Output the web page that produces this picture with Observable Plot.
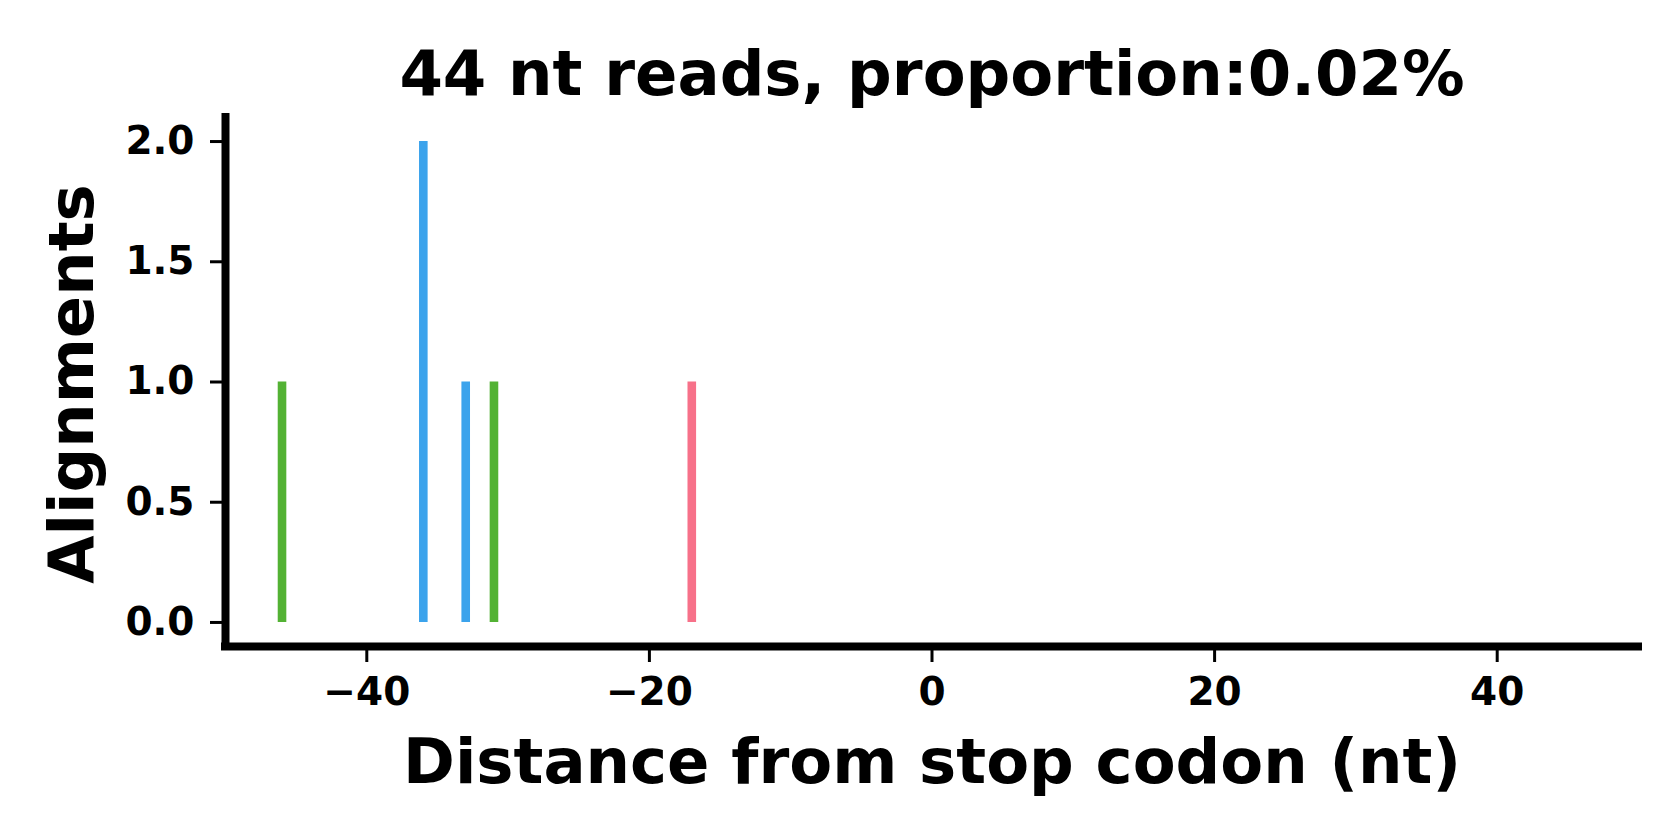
<!DOCTYPE html>
<html>
<head>
<meta charset="utf-8">
<script src="https://cdn.jsdelivr.net/npm/d3@7"></script>
<script src="https://cdn.jsdelivr.net/npm/@observablehq/plot@0.6"></script>
<style>
  html, body { margin: 0; padding: 0; background: #fff; }
  #chart svg { display: block; }
</style>
</head>
<body>
<div id="chart"></div>
<script>
// Data
const positions = [-46, -36, -33, -31, -17];   // distance from stop codon (nt)
const counts    = [1, 2, 1, 1, 1];            // alignments
const frames    = [2, 0, 0, 2, 1];            // reading frame of each position
const frameDomain = [0, 1, 2];
const frameColors = ["#3ba3ec", "#f77189", "#53b234"];
const xTicks = [-40, -20, 0, 20, 40];
const yTicks = [0, 0.5, 1, 1.5, 2];
const titleText = "44 nt reads, proportion:0.02%";
const xLabel = "Distance from stop codon (nt)";
const yLabel = "Alignments";

const data = positions.map((p, i) => ({pos: p, count: counts[i], frame: frames[i]}));

const font = "DejaVu Sans";
const chart = Plot.plot({
  width: 1680,
  height: 840,
  marginLeft: 225,
  marginRight: 42,
  marginTop: 117,
  marginBottom: 194,
  style: {fontFamily: font, fontWeight: "bold", fontSize: "39px", color: "#000", background: "#fff"},
  x: {domain: [-50, 50]},
  y: {domain: [-0.1, 2.1]},
  color: {domain: frameDomain, range: frameColors},
  marks: [
    Plot.ruleX(data, {x: "pos", y1: 0, y2: "count", stroke: "frame", strokeWidth: 8.6}),
    Plot.axisX({ticks: xTicks, tickSize: 16, tickPadding: 15, strokeWidth: 3, label: null, fontSize: 39, fontWeight: "bold"}),
    Plot.axisY({ticks: yTicks, tickFormat: d3.format(".1f"), tickSize: 15, tickPadding: 16, strokeWidth: 3, label: null, fontSize: 39, fontWeight: "bold"}),
    Plot.ruleX([-50], {stroke: "#000", strokeWidth: 8, strokeLinecap: "square"}),
    Plot.ruleY([-0.1], {stroke: "#000", strokeWidth: 8, strokeLinecap: "square"}),
    Plot.text([titleText], {frameAnchor: "top", textAnchor: "middle", lineAnchor: "bottom", dy: -23, fontSize: 62.5, fontWeight: "bold", fill: "#000"}),
    Plot.text([xLabel], {frameAnchor: "bottom", textAnchor: "middle", lineAnchor: "bottom", dy: 136, fontSize: 62.5, fontWeight: "bold", fill: "#000"}),
    Plot.text([yLabel], {frameAnchor: "left", textAnchor: "middle", lineAnchor: "bottom", rotate: -90, dx: -133, dy: 2, fontSize: 62.5, fontWeight: "bold", fill: "#000"})
  ]
});
document.getElementById("chart").appendChild(chart);
</script>
</body>
</html>
